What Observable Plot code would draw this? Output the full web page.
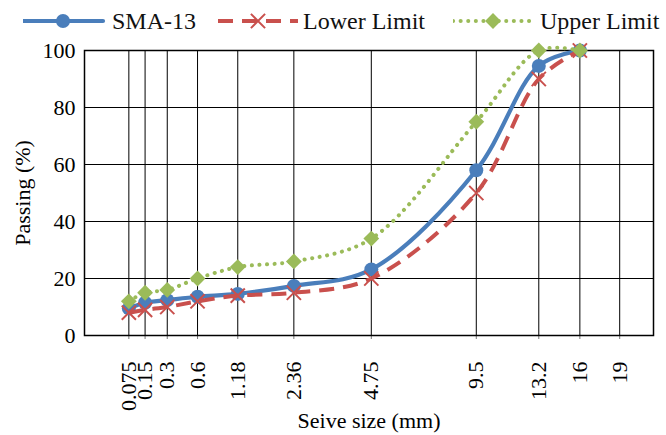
<!DOCTYPE html>
<html>
<head>
<meta charset="utf-8">
<script src="https://cdn.jsdelivr.net/npm/d3@7"></script>
<script src="https://cdn.jsdelivr.net/npm/@observablehq/plot@0.6"></script>
<style>
  body { margin: 0; background: #fff; font-family: "Liberation Serif", "Times New Roman", serif; }
  #legend { height: 38px; position: relative; font-size: 24px; font-family: "Liberation Serif", "Times New Roman", serif; color: #111; }
  #legend .item { position: absolute; top: 2px; height: 38px; display: flex; align-items: center; }
  #legend svg { display: block; }
</style>
</head>
<body>
<div id="legend"></div>
<div id="chart"></div>
<script>
const sieve  = [0.075, 0.15, 0.3, 0.6, 1.18, 2.36, 4.75, 9.5, 13.2, 16];
const sma13  = [9.5, 11.5, 12.4, 13.6, 14.6, 17.4, 23.2, 58, 94.6, 100];
const lower  = [8, 9, 10, 12, 14, 15, 20, 50, 90, 100];
const upper  = [12, 15, 16, 20, 24, 26, 34, 75, 100, 100];
const xTicks = [0.075, 0.15, 0.3, 0.6, 1.18, 2.36, 4.75, 9.5, 13.2, 16, 19];
const yTicks = [0, 20, 40, 60, 80, 100];
const seriesNames = ["SMA-13", "Lower Limit", "Upper Limit"];

const styles = {
  "SMA-13":      {color: "#4A7EBB", dash: null,     cap: "round", width: 4.2, symbol: "circle", r: 7,   rotate: 0,  fill: true},
  "Lower Limit": {color: "#C9504D", dash: "15,9",   cap: "butt",  width: 4,   symbol: "times",  r: 6.5, rotate: 0,  fill: false},
  "Upper Limit": {color: "#9BBB59", dash: "0.1,7.5", cap: "round", width: 4,  symbol: "square", r: 6.3, rotate: 45, fill: true}
};
const values = {"SMA-13": sma13, "Lower Limit": lower, "Upper Limit": upper};

const marks = [
  Plot.gridX(xTicks, {stroke: "black", strokeOpacity: 1, strokeWidth: 1}),
  Plot.gridY(yTicks, {stroke: "black", strokeOpacity: 1, strokeWidth: 1}),
  Plot.axisX(xTicks, {tickRotate: -90, tickSize: 4, tickPadding: 22, stroke: "#777",
    tickFormat: d => String(d), fontSize: 22, fill: "black",
    label: "Seive size (mm)", labelAnchor: "center", labelOffset: 92, labelArrow: "none"}),
  Plot.axisY(yTicks, {tickSize: 0, tickPadding: 9, fontSize: 22, fill: "black",
    label: "Passing (%)", labelAnchor: "center", labelOffset: 70, labelArrow: "none"}),
  Plot.frame({stroke: "black", strokeWidth: 1.5})
];

for (const name of seriesNames) {
  const s = styles[name];
  const data = sieve.map((d, i) => ({size: d, pass: values[name][i]}));
  marks.push(Plot.line(data, {x: "size", y: "pass", curve: "catmull-rom", stroke: s.color,
    strokeWidth: s.width, strokeDasharray: s.dash, strokeLinecap: s.cap}));
  marks.push(Plot.dot(data, {x: "size", y: "pass", symbol: s.symbol, r: s.r, rotate: s.rotate,
    fill: s.fill ? s.color : "none", stroke: s.fill ? "none" : s.color, strokeWidth: s.fill ? 0 : 2}));
}

const chart = Plot.plot({
  width: 666,
  height: 397,
  marginTop: 12,
  marginBottom: 100,
  marginLeft: 84,
  marginRight: 13,
  style: {fontFamily: "Liberation Serif", fontSize: "22px", color: "black", background: "white"},
  x: {type: "pow", exponent: 0.45, domain: [0, 21.77]},
  y: {domain: [0, 100]},
  marks
});
document.getElementById("chart").appendChild(chart);

// Legend
const legendPos = {"SMA-13": [23, 112], "Lower Limit": [218, 303], "Upper Limit": [453, 540]};
const legend = d3.select("#legend");
for (const name of seriesNames) {
  const s = styles[name];
  const [lx, tx] = legendPos[name];
  const item = legend.append("div").attr("class", "item").style("left", lx + "px");
  const svg = item.append("svg").attr("width", tx - lx).attr("height", 38);
  const w = 80;
  svg.append("line").attr("x1", 0).attr("x2", w).attr("y1", 19).attr("y2", 19)
    .attr("stroke", s.color).attr("stroke-width", s.width)
    .attr("stroke-dasharray", s.dash).attr("stroke-linecap", s.cap);
  const sym = {circle: d3.symbolCircle, times: d3.symbolTimes, square: d3.symbolSquare}[s.symbol];
  svg.append("path").attr("d", d3.symbol(sym, Math.PI * s.r * s.r)())
    .attr("transform", `translate(${w / 2},19) rotate(${s.rotate})`)
    .attr("fill", s.fill ? s.color : "none")
    .attr("stroke", s.fill ? "none" : s.color).attr("stroke-width", 2);
  item.append("span").text(name);
}
</script>
</body>
</html>
